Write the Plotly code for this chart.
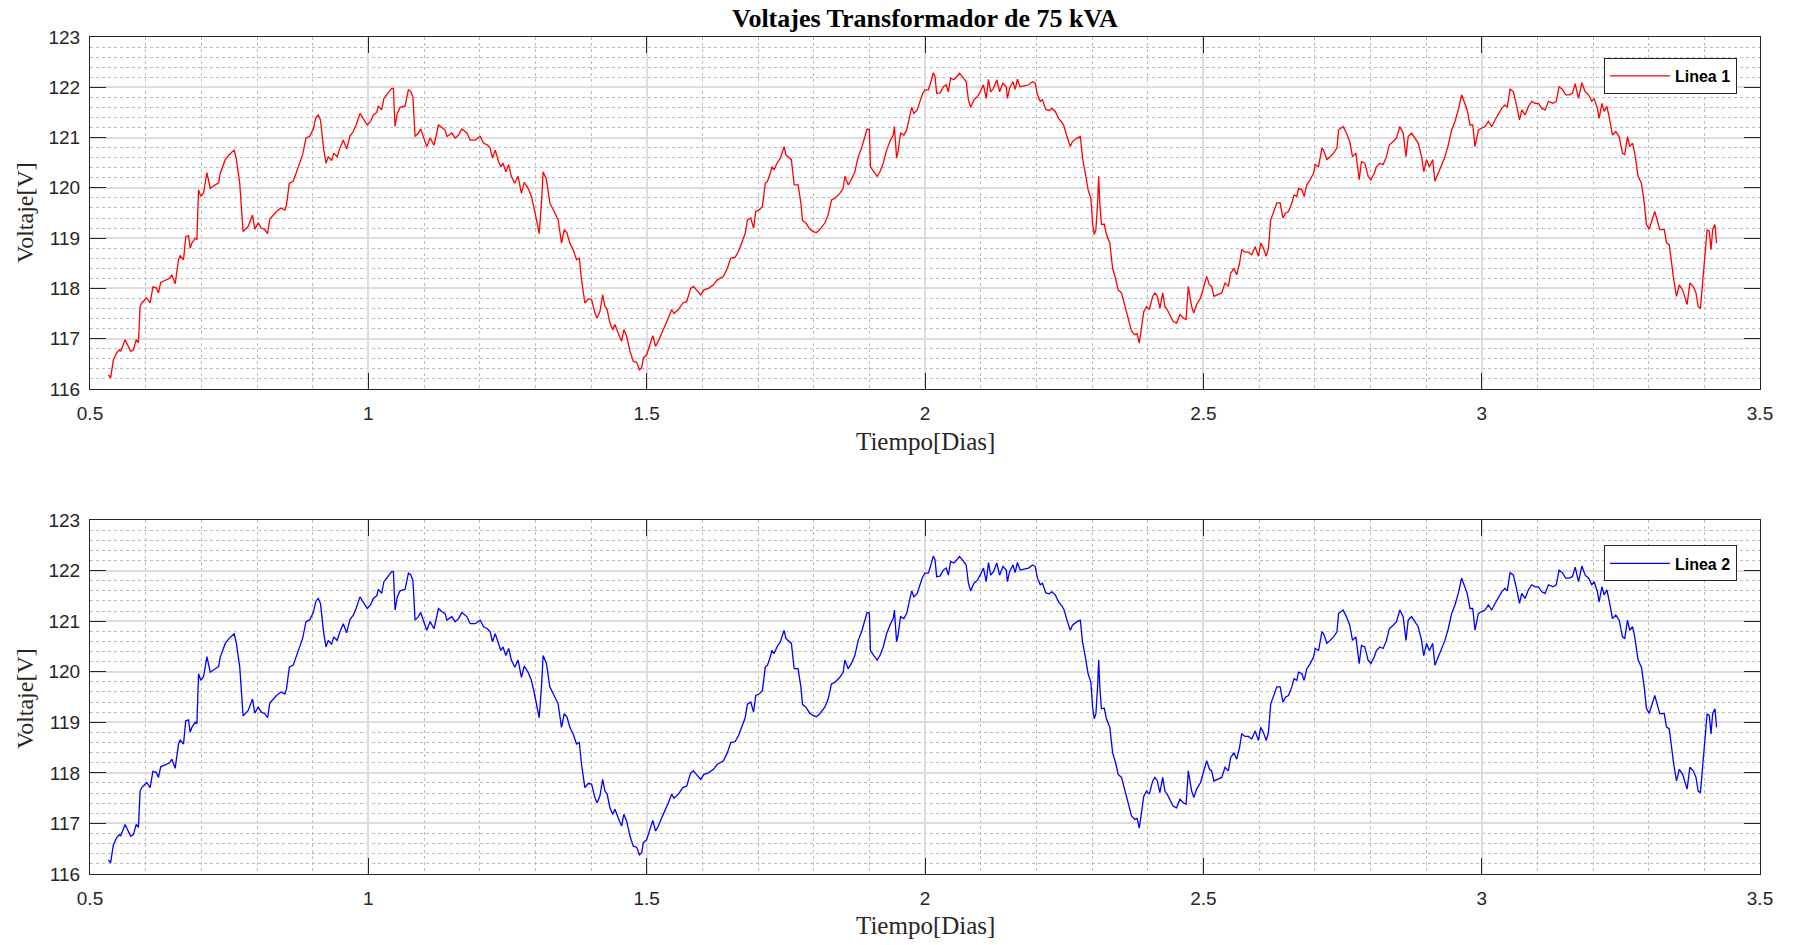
import plotly.graph_objects as go

# ---- data (time in days, voltage in V) ----
tiempo_dias = [
    0.533, 0.537, 0.542, 0.548, 0.553, 0.555, 0.563, 0.569, 0.573, 0.578,
    0.583, 0.587, 0.590, 0.593, 0.602, 0.608, 0.613, 0.619, 0.623, 0.627,
    0.635, 0.643, 0.647, 0.653, 0.659, 0.662, 0.668, 0.672, 0.677, 0.680,
    0.683, 0.689, 0.692, 0.695, 0.699, 0.704, 0.710, 0.716, 0.725, 0.731,
    0.734, 0.743, 0.750, 0.759, 0.763, 0.769, 0.775, 0.784, 0.792, 0.796,
    0.802, 0.808, 0.814, 0.819, 0.823, 0.829, 0.835, 0.843, 0.850, 0.853,
    0.858, 0.865, 0.871, 0.877, 0.882, 0.888, 0.895, 0.901, 0.906, 0.910,
    0.914, 0.920, 0.924, 0.928, 0.934, 0.938, 0.944, 0.949, 0.955, 0.961,
    0.967, 0.973, 0.978, 0.985, 0.991, 0.998, 1.004, 1.009, 1.015, 1.018,
    1.024, 1.028, 1.033, 1.042, 1.045, 1.048, 1.052, 1.057, 1.066, 1.072,
    1.076, 1.080, 1.084, 1.090, 1.094, 1.099, 1.105, 1.111, 1.118, 1.126,
    1.132, 1.138, 1.141, 1.150, 1.156, 1.162, 1.168, 1.177, 1.183, 1.192,
    1.201, 1.207, 1.214, 1.219, 1.223, 1.228, 1.234, 1.238, 1.242, 1.247,
    1.252, 1.257, 1.263, 1.269, 1.275, 1.280, 1.287, 1.293, 1.299, 1.304,
    1.307, 1.311, 1.314, 1.320, 1.326, 1.335, 1.341, 1.347, 1.352, 1.357,
    1.362, 1.368, 1.374, 1.379, 1.383, 1.389, 1.395, 1.401, 1.407, 1.411,
    1.416, 1.421, 1.425, 1.429, 1.434, 1.439, 1.443, 1.451, 1.455, 1.459,
    1.464, 1.470, 1.476, 1.482, 1.487, 1.491, 1.494, 1.500, 1.506, 1.511,
    1.516, 1.521, 1.527, 1.533, 1.539, 1.545, 1.549, 1.557, 1.565, 1.572,
    1.579, 1.584, 1.590, 1.597, 1.603, 1.611, 1.620, 1.627, 1.638, 1.645,
    1.651, 1.659, 1.665, 1.671, 1.677, 1.681, 1.687, 1.692, 1.696, 1.702,
    1.708, 1.713, 1.717, 1.722, 1.725, 1.729, 1.734, 1.740, 1.747, 1.750,
    1.756, 1.760, 1.765, 1.772, 1.777, 1.780, 1.786, 1.793, 1.799, 1.805,
    1.811, 1.820, 1.826, 1.832, 1.838, 1.847, 1.853, 1.856, 1.862, 1.868,
    1.874, 1.880, 1.886, 1.892, 1.896, 1.900, 1.902, 1.908, 1.914,
    1.919, 1.925, 1.931, 1.938, 1.943, 1.945, 1.949, 1.952, 1.956, 1.962,
    1.967, 1.972, 1.976, 1.980, 1.986, 1.991, 1.996, 2.000, 2.006, 2.009,
    2.015, 2.018, 2.021, 2.027, 2.033, 2.038, 2.042, 2.046, 2.052, 2.057,
    2.062, 2.068, 2.074, 2.078, 2.082, 2.088, 2.094, 2.099, 2.105, 2.110,
    2.114, 2.118, 2.123, 2.129, 2.134, 2.140, 2.146, 2.148, 2.152, 2.158,
    2.162, 2.166, 2.171, 2.178, 2.186, 2.193, 2.198, 2.202, 2.207, 2.211,
    2.217, 2.223, 2.228, 2.234, 2.240, 2.246, 2.250, 2.255, 2.261, 2.265,
    2.273, 2.279, 2.283, 2.289, 2.293, 2.298, 2.301, 2.304, 2.307, 2.310,
    2.312, 2.314, 2.317, 2.322, 2.326, 2.332, 2.337, 2.343, 2.347, 2.353,
    2.359, 2.365, 2.371, 2.377, 2.381, 2.385, 2.389, 2.393, 2.398, 2.403,
    2.409, 2.413, 2.417, 2.422, 2.427, 2.431, 2.435, 2.440, 2.446, 2.452,
    2.458, 2.464, 2.469, 2.473, 2.479, 2.483, 2.488, 2.495, 2.500, 2.506,
    2.511, 2.515, 2.519, 2.525, 2.533, 2.539, 2.545, 2.549, 2.555, 2.560,
    2.565, 2.569, 2.575, 2.581, 2.587, 2.593, 2.599, 2.603, 2.608, 2.613,
    2.617, 2.621, 2.626, 2.632,
    2.638, 2.643, 2.648, 2.653, 2.659, 2.663, 2.668, 2.671, 2.677, 2.681,
    2.686, 2.692, 2.698, 2.701, 2.707, 2.713, 2.716, 2.722, 2.728, 2.734,
    2.740, 2.743, 2.751, 2.757, 2.763, 2.768, 2.774, 2.780, 2.784, 2.790,
    2.796, 2.801, 2.807, 2.811, 2.817, 2.823, 2.829, 2.834, 2.841, 2.847,
    2.853, 2.859, 2.864, 2.868, 2.874, 2.880, 2.886, 2.892, 2.896, 2.901,
    2.906, 2.912, 2.916, 2.922, 2.928, 2.934, 2.940, 2.946, 2.952, 2.958,
    2.964, 2.970, 2.974, 2.979, 2.984, 2.988, 2.994, 3.000, 3.006, 3.012,
    3.018, 3.024, 3.030, 3.036, 3.042, 3.046, 3.051, 3.057, 3.063, 3.068,
    3.072, 3.078, 3.084, 3.090, 3.096, 3.102, 3.108, 3.114, 3.120, 3.128,
    3.134, 3.139, 3.145, 3.151, 3.157, 3.163, 3.168, 3.174, 3.180, 3.186,
    3.192, 3.198, 3.202, 3.208, 3.211, 3.216, 3.220, 3.225, 3.230, 3.235,
    3.241, 3.247, 3.253, 3.257, 3.262, 3.266, 3.271, 3.275, 3.281, 3.287,
    3.292, 3.296, 3.301, 3.305, 3.311, 3.316, 3.320, 3.328, 3.332, 3.337,
    3.341, 3.345, 3.350, 3.355, 3.361, 3.365, 3.369, 3.374, 3.380, 3.385,
    3.389, 3.393, 3.397, 3.401, 3.405, 3.409, 3.412, 3.415, 3.419, 3.422,
]

voltaje_linea1 = [
    116.28, 116.22, 116.58, 116.72, 116.78, 116.75, 116.98, 116.85, 116.75, 116.78,
    116.98, 116.92, 117.64, 117.71, 117.81, 117.71, 118.03, 118.01, 117.91, 118.12,
    118.16, 118.20, 118.27, 118.09, 118.57, 118.65, 118.57, 119.03, 119.05, 118.80,
    118.90, 119.00, 118.97, 119.96, 119.83, 119.90, 120.30, 119.99, 120.06, 120.10,
    120.29, 120.56, 120.66, 120.75, 120.56, 120.09, 119.13, 119.23, 119.46, 119.18,
    119.30, 119.20, 119.17, 119.09, 119.38, 119.46, 119.53, 119.60, 119.56, 119.66,
    120.09, 120.13, 120.32, 120.49, 120.66, 120.99, 121.03, 121.17, 121.40, 121.45,
    121.35, 120.75, 120.49, 120.62, 120.54, 120.69, 120.62, 120.79, 120.95, 120.77,
    121.03, 121.12, 121.25, 121.48, 121.36, 121.25, 121.32, 121.45, 121.50, 121.63,
    121.55, 121.78, 121.85, 121.98, 121.98, 121.22, 121.48, 121.60, 121.63, 121.95,
    121.92, 121.81, 121.02, 121.09, 121.17, 120.99, 120.82, 120.99, 120.85, 121.25,
    121.19, 121.15, 121.02, 121.09, 120.99, 121.05, 121.17, 121.09, 120.95, 120.95,
    121.02, 120.89, 120.85, 120.79, 120.59, 120.75, 120.52, 120.42, 120.49, 120.32,
    120.46, 120.23, 120.09, 120.23, 119.89, 120.11, 119.99, 119.83, 119.53, 119.23,
    119.09, 119.70, 120.32, 120.16, 119.70, 119.50, 119.36, 118.90, 119.17, 119.10,
    118.90, 118.77, 118.57, 118.60, 118.17, 117.71, 117.79, 117.78, 117.51, 117.41,
    117.54, 117.87, 117.64, 117.58, 117.31, 117.18, 117.28, 117.05, 116.95, 117.18,
    117.05, 116.75, 116.55, 116.53, 116.38, 116.42, 116.62, 116.68, 116.88, 117.06,
    116.85, 116.95, 117.11, 117.25, 117.41, 117.58, 117.50, 117.58, 117.71, 117.74,
    118.00, 118.04, 117.97, 117.87, 117.97, 118.00, 118.07, 118.17, 118.24, 118.40,
    118.60, 118.62, 118.74, 118.90, 119.09, 119.36, 119.40, 119.20, 119.53, 119.56,
    119.63, 120.09, 120.13, 120.29, 120.42, 120.36, 120.49, 120.59, 120.82, 120.66,
    120.59, 120.56, 120.06, 120.06, 119.70, 119.35, 119.30, 119.18, 119.13, 119.11,
    119.17, 119.30, 119.46, 119.76, 119.79, 119.89, 119.99, 120.23, 120.06, 120.17,
    120.32, 120.62, 120.79, 121.02, 121.17, 121.16, 120.42, 120.32, 120.23,
    120.32, 120.49, 120.75, 120.95, 121.05, 121.22, 120.59, 120.75, 121.09, 121.05,
    121.15, 121.38, 121.60, 121.48, 121.55, 121.72, 121.88, 121.95, 121.95, 122.05,
    122.29, 122.21, 121.88, 121.89, 122.01, 122.05, 121.91, 122.18, 122.15, 122.21,
    122.28, 122.20, 122.11, 121.75, 121.60, 121.75, 121.81, 121.91, 122.05, 121.78,
    122.16, 121.91, 121.98, 122.15, 121.91, 122.08, 122.01, 121.78, 121.98, 122.11,
    121.96, 122.16, 122.01, 122.03, 122.05, 122.11, 122.08, 121.85, 121.72, 121.75,
    121.56, 121.54, 121.58, 121.52, 121.38, 121.30, 121.22, 121.02, 120.82, 120.92,
    120.99, 121.02, 120.59, 120.23, 119.96, 119.79, 119.30, 119.07, 119.17, 119.70,
    120.23, 119.70, 119.27, 119.28, 119.07, 118.90, 118.40, 118.17, 117.97, 117.91,
    117.64, 117.41, 117.15, 117.08, 117.10, 116.91, 117.21, 117.54, 117.64, 117.58,
    117.84, 117.91, 117.85, 117.61, 117.91, 117.64, 117.58, 117.48, 117.34, 117.31,
    117.48, 117.41, 117.38, 118.04, 117.64, 117.51, 117.68, 117.81, 118.00, 118.24,
    118.07, 118.04, 117.84, 117.87, 117.91, 118.11, 118.04, 118.30, 118.40, 118.27,
    118.50, 118.77, 118.72, 118.72, 118.67, 118.83, 118.64, 118.90, 118.80, 118.64,
    118.80, 119.36, 119.50, 119.70,
    119.70, 119.40, 119.50, 119.53, 119.70, 119.86, 119.83, 119.99, 119.96, 119.83,
    120.06, 120.16, 120.29, 120.46, 120.42, 120.79, 120.75, 120.56, 120.62, 120.69,
    120.79, 121.15, 121.22, 121.09, 120.92, 120.62, 120.69, 120.16, 120.52, 120.49,
    120.23, 120.16, 120.29, 120.42, 120.49, 120.46, 120.62, 120.85, 120.92, 120.99,
    121.22, 121.09, 120.62, 121.02, 121.09, 120.99, 120.89, 120.62, 120.32, 120.56,
    120.42, 120.56, 120.13, 120.29, 120.46, 120.62, 120.85, 121.15, 121.32, 121.55,
    121.85, 121.65, 121.55, 121.25, 121.25, 120.82, 121.15, 121.19, 121.22, 121.32,
    121.22, 121.35, 121.48, 121.58, 121.65, 121.60, 121.96, 121.91, 121.62, 121.35,
    121.55, 121.45, 121.62, 121.72, 121.68, 121.68, 121.58, 121.55, 121.72, 121.68,
    121.72, 122.01, 121.96, 121.85, 121.85, 121.88, 122.07, 121.78, 122.09, 121.91,
    121.85, 121.72, 121.78, 121.58, 121.38, 121.68, 121.52, 121.62, 121.35, 121.05,
    121.12, 121.02, 120.69, 120.66, 121.02, 120.82, 120.89, 120.69, 120.23, 120.09,
    119.70, 119.27, 119.18, 119.33, 119.53, 119.33, 119.17, 119.17, 118.91, 118.87,
    118.50, 118.17, 117.84, 118.07, 117.97, 117.84, 117.68, 118.11, 118.04, 117.91,
    117.64, 117.61, 118.11, 118.50, 119.17, 119.13, 118.77, 119.17, 119.27, 118.90,
]

voltaje_linea2 = [
    116.28, 116.22, 116.58, 116.72, 116.78, 116.75, 116.98, 116.85, 116.75, 116.78,
    116.98, 116.92, 117.64, 117.71, 117.81, 117.71, 118.03, 118.01, 117.91, 118.12,
    118.16, 118.20, 118.27, 118.09, 118.57, 118.65, 118.57, 119.03, 119.05, 118.80,
    118.90, 119.00, 118.97, 119.96, 119.83, 119.90, 120.30, 119.99, 120.06, 120.10,
    120.29, 120.56, 120.66, 120.75, 120.56, 120.09, 119.13, 119.23, 119.46, 119.18,
    119.30, 119.20, 119.17, 119.09, 119.38, 119.46, 119.53, 119.60, 119.56, 119.66,
    120.09, 120.13, 120.32, 120.49, 120.66, 120.99, 121.03, 121.17, 121.40, 121.45,
    121.35, 120.75, 120.49, 120.62, 120.54, 120.69, 120.62, 120.79, 120.95, 120.77,
    121.03, 121.12, 121.25, 121.48, 121.36, 121.25, 121.32, 121.45, 121.50, 121.63,
    121.55, 121.78, 121.85, 121.98, 121.98, 121.22, 121.48, 121.60, 121.63, 121.95,
    121.92, 121.81, 121.02, 121.09, 121.17, 120.99, 120.82, 120.99, 120.85, 121.25,
    121.19, 121.15, 121.02, 121.09, 120.99, 121.05, 121.17, 121.09, 120.95, 120.95,
    121.02, 120.89, 120.85, 120.79, 120.59, 120.75, 120.52, 120.42, 120.49, 120.32,
    120.46, 120.23, 120.09, 120.23, 119.89, 120.11, 119.99, 119.83, 119.53, 119.23,
    119.09, 119.70, 120.32, 120.16, 119.70, 119.50, 119.36, 118.90, 119.17, 119.10,
    118.90, 118.77, 118.57, 118.60, 118.17, 117.71, 117.79, 117.78, 117.51, 117.41,
    117.54, 117.87, 117.64, 117.58, 117.31, 117.18, 117.28, 117.05, 116.95, 117.18,
    117.05, 116.75, 116.55, 116.53, 116.38, 116.42, 116.62, 116.68, 116.88, 117.06,
    116.85, 116.95, 117.11, 117.25, 117.41, 117.58, 117.50, 117.58, 117.71, 117.74,
    118.00, 118.04, 117.97, 117.87, 117.97, 118.00, 118.07, 118.17, 118.24, 118.40,
    118.60, 118.62, 118.74, 118.90, 119.09, 119.36, 119.40, 119.20, 119.53, 119.56,
    119.63, 120.09, 120.13, 120.29, 120.42, 120.36, 120.49, 120.59, 120.82, 120.66,
    120.59, 120.56, 120.06, 120.06, 119.70, 119.35, 119.30, 119.18, 119.13, 119.11,
    119.17, 119.30, 119.46, 119.76, 119.79, 119.89, 119.99, 120.23, 120.06, 120.17,
    120.32, 120.62, 120.79, 121.02, 121.17, 121.16, 120.42, 120.32, 120.23,
    120.32, 120.49, 120.75, 120.95, 121.05, 121.22, 120.59, 120.75, 121.09, 121.05,
    121.15, 121.38, 121.60, 121.48, 121.55, 121.72, 121.88, 121.95, 121.95, 122.05,
    122.29, 122.21, 121.88, 121.89, 122.01, 122.05, 121.91, 122.18, 122.15, 122.21,
    122.28, 122.20, 122.11, 121.75, 121.60, 121.75, 121.81, 121.91, 122.05, 121.78,
    122.16, 121.91, 121.98, 122.15, 121.91, 122.08, 122.01, 121.78, 121.98, 122.11,
    121.96, 122.16, 122.01, 122.03, 122.05, 122.11, 122.08, 121.85, 121.72, 121.75,
    121.56, 121.54, 121.58, 121.52, 121.38, 121.30, 121.22, 121.02, 120.82, 120.92,
    120.99, 121.02, 120.59, 120.23, 119.96, 119.79, 119.30, 119.07, 119.17, 119.70,
    120.23, 119.70, 119.27, 119.28, 119.07, 118.90, 118.40, 118.17, 117.97, 117.91,
    117.64, 117.41, 117.15, 117.08, 117.10, 116.91, 117.21, 117.54, 117.64, 117.58,
    117.84, 117.91, 117.85, 117.61, 117.91, 117.64, 117.58, 117.48, 117.34, 117.31,
    117.48, 117.41, 117.38, 118.04, 117.64, 117.51, 117.68, 117.81, 118.00, 118.24,
    118.07, 118.04, 117.84, 117.87, 117.91, 118.11, 118.04, 118.30, 118.40, 118.27,
    118.50, 118.77, 118.72, 118.72, 118.67, 118.83, 118.64, 118.90, 118.80, 118.64,
    118.80, 119.36, 119.50, 119.70,
    119.70, 119.40, 119.50, 119.53, 119.70, 119.86, 119.83, 119.99, 119.96, 119.83,
    120.06, 120.16, 120.29, 120.46, 120.42, 120.79, 120.75, 120.56, 120.62, 120.69,
    120.79, 121.15, 121.22, 121.09, 120.92, 120.62, 120.69, 120.16, 120.52, 120.49,
    120.23, 120.16, 120.29, 120.42, 120.49, 120.46, 120.62, 120.85, 120.92, 120.99,
    121.22, 121.09, 120.62, 121.02, 121.09, 120.99, 120.89, 120.62, 120.32, 120.56,
    120.42, 120.56, 120.13, 120.29, 120.46, 120.62, 120.85, 121.15, 121.32, 121.55,
    121.85, 121.65, 121.55, 121.25, 121.25, 120.82, 121.15, 121.19, 121.22, 121.32,
    121.22, 121.35, 121.48, 121.58, 121.65, 121.60, 121.96, 121.91, 121.62, 121.35,
    121.55, 121.45, 121.62, 121.72, 121.68, 121.68, 121.58, 121.55, 121.72, 121.68,
    121.72, 122.01, 121.96, 121.85, 121.85, 121.88, 122.07, 121.78, 122.09, 121.91,
    121.85, 121.72, 121.78, 121.58, 121.38, 121.68, 121.52, 121.62, 121.35, 121.05,
    121.12, 121.02, 120.69, 120.66, 121.02, 120.82, 120.89, 120.69, 120.23, 120.09,
    119.70, 119.27, 119.18, 119.33, 119.53, 119.33, 119.17, 119.17, 118.91, 118.87,
    118.50, 118.17, 117.84, 118.07, 117.97, 117.84, 117.68, 118.11, 118.04, 117.91,
    117.64, 117.61, 118.11, 118.50, 119.17, 119.13, 118.77, 119.17, 119.27, 118.90,
]

nombres_series = ["Linea 1", "Linea 2"]
titulo = "Voltajes Transformador de 75 kVA"
etiqueta_x = "Tiempo[Dias]"
etiqueta_y = "Voltaje[V]"

# ---- figure ----
DARK = "#262626"
TICKFONT = dict(family="Liberation Sans, Arial, sans-serif", size=19, color=DARK)
SERIF = "Liberation Serif, Times New Roman, serif"

fig = go.Figure()
fig.add_trace(go.Scatter(x=tiempo_dias, y=voltaje_linea1, mode="lines",
                         line=dict(color="#ff0000", width=1.3),
                         name="<b>" + nombres_series[0] + "</b>",
                         xaxis="x", yaxis="y", legend="legend"))
fig.add_trace(go.Scatter(x=tiempo_dias, y=voltaje_linea2, mode="lines",
                         line=dict(color="#0000ff", width=1.3),
                         name="<b>" + nombres_series[1] + "</b>",
                         xaxis="x2", yaxis="y2", legend="legend2"))

common = dict(showline=True, linecolor=DARK, linewidth=1.2, mirror="allticks",
              ticks="inside", ticklen=16, tickwidth=1.2, tickcolor=DARK,
              showgrid=True, gridcolor="#dcdcdc", gridwidth=1.5, zeroline=False,
              tickfont=TICKFONT)
xcommon = dict(common, range=[0.5, 3.5], tick0=0.5, dtick=0.5, ticklabelstandoff=7,
               minor=dict(dtick=0.1, showgrid=True, gridcolor="#bcbcbc",
                          griddash="dot", gridwidth=1, ticks=""))
ycommon = dict(common, range=[116, 123], tick0=116, dtick=1, ticklabelstandoff=5,
               minor=dict(dtick=0.2, showgrid=True, gridcolor="#bcbcbc",
                          griddash="dot", gridwidth=1, ticks=""))

top_dom = [0.5795, 1.0]
bot_dom = [0.0, 0.4229]

legend_common = dict(bgcolor="white", bordercolor=DARK, borderwidth=1,
                     font=dict(family="Liberation Sans, Arial, sans-serif", size=16, color="black"),
                     xanchor="right", yanchor="top", x=0.9862, xref="paper", yref="paper",
                     itemwidth=60)

fig.update_layout(
    width=1796, height=945,
    margin=dict(l=90, r=36, t=37, b=71),
    paper_bgcolor="white", plot_bgcolor="white",
    showlegend=True,
    xaxis=dict(xcommon, anchor="y", domain=[0, 1]),
    yaxis=dict(ycommon, anchor="x", domain=top_dom),
    xaxis2=dict(xcommon, anchor="y2", domain=[0, 1]),
    yaxis2=dict(ycommon, anchor="x2", domain=bot_dom),
    legend=dict(legend_common, y=0.975),
    legend2=dict(legend_common, y=0.3925),
)

annots = [
    dict(text="<b>" + titulo + "</b>", x=0.5, y=1.0227, xref="paper", yref="paper",
         xanchor="center", yanchor="middle", showarrow=False,
         font=dict(family=SERIF, size=26, color="black")),
    dict(text=etiqueta_x, x=0.5, y=0.5173, xref="paper", yref="paper",
         xanchor="center", yanchor="middle", showarrow=False,
         font=dict(family=SERIF, size=25, color=DARK)),
    dict(text=etiqueta_x, x=0.5, y=-0.0615, xref="paper", yref="paper",
         xanchor="center", yanchor="middle", showarrow=False,
         font=dict(family=SERIF, size=25, color=DARK)),
    dict(text=etiqueta_y, x=-0.0389, y=0.7897, xref="paper", yref="paper",
         xanchor="center", yanchor="middle", showarrow=False, textangle=-90,
         font=dict(family=SERIF, size=24, color=DARK)),
    dict(text=etiqueta_y, x=-0.0389, y=0.209, xref="paper", yref="paper",
         xanchor="center", yanchor="middle", showarrow=False, textangle=-90,
         font=dict(family=SERIF, size=24, color=DARK)),
]
fig.update_layout(annotations=annots)

fig.write_html("out.html")
